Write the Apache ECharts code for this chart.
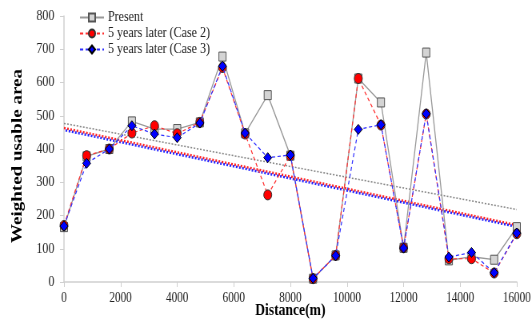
<!DOCTYPE html>
<html>
<head>
<meta charset="utf-8">
<script src="https://cdn.jsdelivr.net/npm/echarts@6/dist/echarts.min.js"></script>
<style>
  html, body { margin: 0; padding: 0; background: #fff; overflow: hidden; }
  /* chart is laid out wider and squeezed horizontally to its final 532px width */
  #chart { width: 665px; height: 325px; transform: scaleX(0.8); transform-origin: 0 0; }
</style>
</head>
<body>
<div id="chart"></div>
<script>
// Survey stations along the reach (m)
const distances = [0, 800, 1600, 2400, 3200, 4000, 4800, 5600, 6400, 7200, 8000,
  8800, 9600, 10400, 11200, 12000, 12800, 13600, 14400, 15200, 16000];

// Weighted usable area at each station
const present = [165, 378, 400, 483, 460, 460, 480, 678, 447, 562, 380,
  10, 80, 612, 540, 103, 690, 65, 76, 67, 165];
const case2 = [170, 380, 400, 448, 470, 446, 480, 645, 445, 262, 380,
  10, 80, 612, 472, 103, 505, 70, 70, 27, 145];
const case3 = [168, 357, 400, 470, 445, 434, 478, 649, 448, 374, 382,
  11, 79, 459, 473, 102, 506, 75, 89, 28, 147];

// Linear trend end points [distance, value]
const trendPresent = [[0, 477], [16000, 218]];
const trendCase2 = [[0, 463], [16000, 171]];
const trendCase3 = [[0, 457], [16000, 166]];

const xTicks = { min: 0, max: 16000, interval: 2000 };
const yTicks = { min: 0, max: 800, interval: 100 };

const serif = '"Liberation Serif", "DejaVu Serif", serif';
const pair = (xs, ys) => xs.map((x, i) => [x, ys[i]]);

const chart = echarts.init(document.getElementById('chart'), null, { renderer: 'canvas' });

chart.setOption({
  animation: false,
  backgroundColor: '#fff',
  grid: { left: 80, right: 19, top: 16, bottom: 43, containLabel: false, outerBoundsMode: 'none' },
  legend: {
    orient: 'vertical',
    left: 94,
    top: 5,
    itemGap: 1,
    itemWidth: 30,
    itemHeight: 10,
    textStyle: { fontFamily: serif, fontSize: 15, color: '#222' },
    data: ['Present', '5 years later (Case 2)', '5 years later (Case 3)']
  },
  xAxis: {
    type: 'value',
    min: xTicks.min, max: xTicks.max, interval: xTicks.interval,
    name: 'Distance(m)',
    nameLocation: 'middle',
    nameGap: 20,
    nameMoveOverlap: false,
    nameTextStyle: { fontFamily: serif, fontSize: 17, fontWeight: 'bold', color: '#000' },
    axisLine: { lineStyle: { color: '#d0d0d0', width: 1.5 } },
    axisTick: { show: true, length: 5, lineStyle: { color: '#d0d0d0' } },
    axisLabel: { fontFamily: serif, fontSize: 14, color: '#222', margin: 9, formatter: v => String(v) },
    splitLine: { show: false }
  },
  yAxis: {
    type: 'value',
    min: yTicks.min, max: yTicks.max, interval: yTicks.interval,
    name: 'Weighted usable area',
    nameLocation: 'middle',
    nameGap: 48,
    nameMoveOverlap: false,
    nameTextStyle: { fontFamily: serif, fontSize: 19, fontWeight: 'bold', color: '#000', padding: [0, 14, 0, 0] },
    axisLine: { show: true, lineStyle: { color: '#d0d0d0', width: 1.5 } },
    axisTick: { show: true, length: 5, lineStyle: { color: '#d0d0d0' } },
    axisLabel: { fontFamily: serif, fontSize: 15, color: '#222', margin: 12, formatter: v => String(v) },
    splitLine: { show: false }
  },
  series: [
    {
      name: 'trendPresent', type: 'line', data: trendPresent, symbol: 'none', silent: true,
      lineStyle: { color: '#888', width: 1.5, type: [2, 2] }, z: 1
    },
    {
      name: 'trendCase2', type: 'line', data: trendCase2, symbol: 'none', silent: true,
      lineStyle: { color: '#ff2020', width: 2.5, type: [2, 2] }, z: 1
    },
    {
      name: 'trendCase3', type: 'line', data: trendCase3, symbol: 'none', silent: true,
      lineStyle: { color: '#2020ff', width: 2.5, type: [2, 2], dashOffset: 2 }, z: 1
    },
    {
      name: 'Present', type: 'line', data: pair(distances, present),
      symbol: 'rect', symbolSize: 9,
      itemStyle: { color: '#d4d4d4', borderColor: '#555', borderWidth: 1 },
      lineStyle: { color: '#999', width: 1.3 }, z: 2
    },
    {
      name: '5 years later (Case 2)', type: 'line', data: pair(distances, case2),
      symbol: 'circle', symbolSize: 10,
      itemStyle: { color: '#ff0000', borderColor: '#333', borderWidth: 1 },
      lineStyle: { color: '#ff3030', width: 1.2, type: [4, 3] }, z: 3
    },
    {
      name: '5 years later (Case 3)', type: 'line', data: pair(distances, case3),
      symbol: 'diamond', symbolSize: 10,
      itemStyle: { color: '#0000ff', borderColor: '#000', borderWidth: 1 },
      lineStyle: { color: '#3030ff', width: 1.2, type: [4, 3] }, z: 4
    }
  ]
});
</script>
</body>
</html>
